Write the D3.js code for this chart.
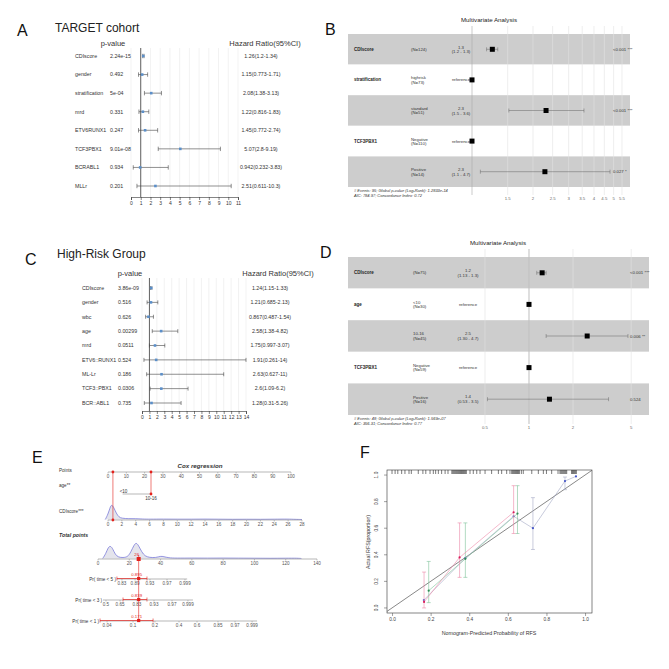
<!DOCTYPE html>
<html>
<head>
<meta charset="utf-8">
<script src="https://cdn.jsdelivr.net/npm/d3@7"></script>
<style>
  body { margin: 0; background: #fff; }
  svg { display: block; font-family: "Liberation Sans", Arial, sans-serif; }
</style>
</head>
<body>
<svg id="fig" width="669" height="669"></svg>
<script>
// ---- A: univariate cox, TARGET cohort
const varsA = ['CDIscore', 'gender', 'stratification', 'mrd', 'ETV6RUNX1', 'TCF3PBX1', 'BCRABL1', 'MLLr'];
const pvalA = ['2.24e-15', '0.492', '5e-04', '0.331', '0.247', '9.01e-08', '0.934', '0.201'];
const hrA = [1.26, 1.15, 2.08, 1.22, 1.45, 5.07, 0.942, 2.51];
const loA = [1.2, 0.773, 1.38, 0.816, 0.772, 2.8, 0.232, 0.611];
const hiA = [1.34, 1.71, 3.13, 1.83, 2.74, 9.19, 3.83, 10.3];
const ticksA = d3.range(0, 12);

// ---- C: univariate cox, high-risk group
const varsC = ['CDIscore', 'gender', 'wbc', 'age', 'mrd', 'ETV6::RUNX1', 'ML-Lr', 'TCF3::PBX1', 'BCR::ABL1'];
const pvalC = ['3.86e-09', '0.516', '0.626', '0.00299', '0.0511', '0.524', '0.186', '0.0306', '0.735'];
const hrC = [1.24, 1.21, 0.867, 2.58, 1.75, 1.91, 2.63, 2.6, 1.28];
const loC = [1.15, 0.685, 0.487, 1.38, 0.997, 0.261, 0.627, 1.09, 0.31];
const hiC = [1.33, 2.13, 1.54, 4.82, 3.07, 14, 11, 6.2, 5.26];
const ticksC = d3.range(0, 15);

// ---- B: multivariate, TARGET
const mvVarB = ['CDIscore', 'stratification', '', 'TCF3PBX1', ''];
const mvLevelB = ['', 'highrisk', 'standard', 'Negative', 'Positive'];
const mvNB = [124, 73, 51, 110, 14];
const mvHrB = [1.26, 1, 2.32, 1, 2.29];
const mvLoB = [1.18, null, 1.52, null, 1.1];
const mvHiB = [1.34, null, 3.57, null, 4.8];
const mvEstB = ['1.3', '', '2.3', '', '2.3'];
const mvCiB = ['(1.2 - 1.3)', '', '(1.5 - 3.6)', '', '(1.1 - 4.7)'];
const mvPB = ['<0.001 ***', '', '<0.001 ***', '', '0.027 *'];
const mvTicksB = [1.5, 2, 2.5, 3, 3.5, 4, 4.5, 5, 5.5];
const mvNoteB = ['# Events: 95; Global p-value (Log-Rank): 1.2833e-14', 'AIC: 784.97; Concordance Index: 0.72'];

// ---- D: multivariate, high-risk
const mvVarD = ['CDIscore', 'age', '', 'TCF3PBX1', ''];
const mvLevelD = ['', '<10', '10-16', 'Negative', 'Positive'];
const mvND = [75, 30, 45, 59, 16];
const mvHrD = [1.23, 1, 2.5, 1, 1.38];
const mvLoD = [1.13, null, 1.31, null, 0.52];
const mvHiD = [1.31, null, 4.75, null, 3.5];
const mvEstD = ['1.2', '', '2.5', '', '1.4'];
const mvCiD = ['(1.13 - 1.3)', '', '(1.30 - 4.7)', '', '(0.53 - 3.5)'];
const mvPD = ['<0.001 ***', '', '0.006 **', '', '0.524'];
const mvTicksD = [0.5, 1, 2, 5];
const mvNoteD = ['# Events: 48; Global p-value (Log-Rank): 1.569e-07', 'AIC: 356.31; Concordance Index: 0.77'];

// ---- E: nomogram
const pointTicks = d3.range(0, 101, 10);
const ageLevels = ['<10', '10-16'];
const agePoints = [8, 23.5];
const cdiTicks = d3.range(0, 29, 2);
const cdiMaxPoints = 106;   // points given to CDIscore = 28
const cdiDensity = [[-0.4, 0], [0, 0.35], [0.3, 0.8], [0.5, 1], [0.8, 0.85], [1.2, 0.4], [1.6, 0.15], [2, 0.08],
  [3, 0.05], [4, 0.06], [5, 0.03], [6, 0.02], [8, 0.03], [10, 0.02], [12, 0.02], [14, 0.03], [16, 0.02],
  [18, 0.01], [20, 0.02], [22, 0.01], [24, 0.02], [26, 0.03], [27, 0.01], [28, 0]];
const totalTicks = d3.range(0, 141, 20);
const totalDensity = [[3, 0], [5, 0.3], [6.5, 0.7], [8, 0.8], [9.5, 0.6], [11, 0.25], [13, 0.08], [16, 0.05],
  [19, 0.1], [21, 0.4], [23, 0.85], [24.5, 1], [26, 0.8], [28, 0.4], [30, 0.15], [33, 0.06], [37, 0.05],
  [40, 0.15], [42, 0.12], [45, 0.04], [50, 0.02], [60, 0.03], [70, 0.02], [80, 0.03], [90, 0.02],
  [100, 0.02], [110, 0.01], [120, 0.02], [128, 0.02], [130, 0]];
const probNames = ['Pr( time < 5 )', 'Pr( time < 3 )', 'Pr( time < 1 )'];
const probTickLabels = [
  ['0.83', '0.89', '0.93', '0.97', '0.999'],
  ['0.5', '0.65', '0.83', '0.93', '0.97', '0.999'],
  ['0.04', '0.1', '0.2', '0.4', '0.6', '0.85', '0.97', '0.999']
];
const probTickPoints = [
  [15.3, 23.7, 33.2, 44.1, 55.6],
  [5.1, 14.1, 24.9, 35.8, 47.3, 57.5],
  [5.8, 22.4, 36.4, 51.8, 63.3, 76.7, 87.6, 98.5]
];
const probRange = [[12.1, 57], [3.2, 60.7], [1.3, 101.7]];
const patientAgePoints = 23.5;
const patientCdi = 0.71;
const patientTotal = 26;
const patientProb = ['0.895', '0.839', '0.171'];
const patientProbCi = [[12.1, 31.3], [16, 31.3], [1.3, 35.2]];

// ---- F: calibration
const calTicks = [0, 0.2, 0.4, 0.6, 0.8, 1];
const rugPred = [0, 0.016, 0.03, 0.05, 0.067, 0.088, 0.1, 0.136, 0.16, 0.175, 0.197, 0.214, 0.226, 0.24, 0.257,
  0.275, 0.29, 0.31, 0.315, 0.32, 0.325, 0.33, 0.335, 0.34, 0.345, 0.35, 0.355, 0.36, 0.365, 0.37, 0.375,
  0.38, 0.385, 0.404, 0.421, 0.439, 0.456, 0.482, 0.516, 0.551, 0.568, 0.594, 0.611, 0.62, 0.625, 0.63,
  0.635, 0.64, 0.645, 0.65, 0.655, 0.66, 0.67, 0.68, 0.724, 0.758, 0.784, 0.8, 0.827, 0.86, 0.87, 0.875,
  0.88, 0.885, 0.89, 0.895, 0.9, 0.905, 0.93, 0.935, 0.94, 0.945, 0.95, 0.955];
const calPredRed = [0.166, 0.35, 0.63];
const calObsRed = [0.045, 0.38, 0.72];
const calLoRed = [0.0, 0.23, 0.56];
const calHiRed = [0.27, 0.64, 0.92];
const calPredGreen = [0.19, 0.38, 0.65];
const calObsGreen = [0.13, 0.37, 0.71];
const calLoGreen = [0.04, 0.23, 0.56];
const calHiGreen = [0.35, 0.64, 0.92];
const calPredBlue = [0.165, 0.38, 0.63, 0.73, 0.896, 0.953];
const calObsBlue = [0.06, 0.375, 0.69, 0.6, 0.955, 0.99];
const calLoBlue = [null, null, null, 0.44, 0.89, null];
const calHiBlue = [null, null, null, 0.83, 0.985, null];

const svg = d3.select('#fig');

// panel letters
[['A', 17, 36], ['B', 325, 35], ['C', 25, 265], ['D', 320, 258], ['E', 32, 463], ['F', 360, 458]]
  .forEach(([t, x, y]) => {
    svg.append('text').attr('x', x).attr('y', y).attr('font-size', 16).attr('fill', '#111').text(t);
  });

function forest(o) {
  const g = svg.append('g');
  const x = d3.scaleLinear().domain([0, o.ticks[o.ticks.length - 1]]).range([o.x0, o.x1]);
  const y = d3.scalePoint().domain(o.vars).range([o.rowTop, o.rowBot]);

  g.append('text').attr('x', o.titleX).attr('y', o.titleY).attr('font-size', 12).attr('fill', '#222').text(o.title);
  g.append('text').attr('x', o.pHeadX).attr('y', o.headY).attr('text-anchor', 'middle')
    .attr('font-size', 7.5).attr('fill', '#333').text('p-value');
  g.append('text').attr('x', o.hrHeadX).attr('y', o.headY).attr('text-anchor', 'middle')
    .attr('font-size', 7.5).attr('fill', '#333').text('Hazard Ratio(95%CI)');

  g.selectAll('.grid').data(o.ticks).join('line')
    .attr('x1', d => x(d)).attr('x2', d => x(d))
    .attr('y1', o.headY + 2).attr('y2', o.axisY)
    .attr('stroke', '#e4e4e4').attr('stroke-width', 0.5);
  g.append('line').attr('x1', x(1)).attr('x2', x(1)).attr('y1', o.headY + 2).attr('y2', o.axisY)
    .attr('stroke', '#222').attr('stroke-width', 0.7);

  const ax = g.append('g').attr('transform', `translate(0,${o.axisY})`)
    .call(d3.axisBottom(x).tickValues(o.ticks).tickSize(3).tickPadding(1.5).tickFormat(d3.format('d')));
  ax.selectAll('text').attr('font-size', 5).attr('fill', '#333');
  ax.selectAll('line,path').attr('stroke', '#333').attr('stroke-width', 0.6);

  const rows = g.selectAll('.row').data(o.vars).join('g').attr('transform', d => `translate(0,${y(d)})`);
  rows.append('text').attr('x', o.labelX).attr('dy', '0.35em').attr('font-size', 5.3).attr('fill', '#333').text(d => d);
  rows.append('text').attr('x', o.pX).attr('dy', '0.35em').attr('font-size', 5.3).attr('fill', '#333').text((d, i) => o.p[i]);
  rows.append('text').attr('x', o.hrX).attr('dy', '0.35em').attr('text-anchor', 'middle').attr('font-size', 5.3)
    .attr('fill', '#333').text((d, i) => `${o.hr[i]}(${o.lo[i]}-${o.hi[i]})`);
  rows.append('line').attr('x1', (d, i) => x(o.lo[i])).attr('x2', (d, i) => x(o.hi[i]))
    .attr('stroke', '#444').attr('stroke-width', 0.6);
  ['lo', 'hi'].forEach(k => {
    rows.append('line').attr('x1', (d, i) => x(o[k][i])).attr('x2', (d, i) => x(o[k][i]))
      .attr('y1', -o.cap).attr('y2', o.cap).attr('stroke', '#444').attr('stroke-width', 0.6);
  });
  rows.append('rect').attr('x', (d, i) => x(o.hr[i]) - 1.3).attr('y', -1.3).attr('width', 2.6).attr('height', 2.6)
    .attr('fill', '#5b8fc9');
}

forest({ title: 'TARGET cohort', titleX: 55, titleY: 32, vars: varsA, p: pvalA, hr: hrA, lo: loA, hi: hiA,
  ticks: ticksA, x0: 131, x1: 238, rowTop: 56, rowBot: 186, axisY: 197, labelX: 75, pX: 110, hrX: 261,
  headY: 46, pHeadX: 113, hrHeadX: 265, cap: 2.2 });
forest({ title: 'High-Risk Group', titleX: 57, titleY: 258, vars: varsC, p: pvalC, hr: hrC, lo: loC, hi: hiC,
  ticks: ticksC, x0: 142, x1: 246, rowTop: 288, rowBot: 403, axisY: 411, labelX: 82, pX: 118, hrX: 270,
  headY: 276, pHeadX: 130, hrHeadX: 278, cap: 2 });

function multivariate(o) {
  const g = svg.append('g');
  const x = d3.scaleLog().domain([1, o.refMax]).range([o.refX, o.refMaxX]);
  const n = o.vars.length;
  const rowY = i => o.rowTop + o.rowH * i;

  g.append('text').attr('x', o.titleX).attr('y', o.titleY).attr('text-anchor', 'middle')
    .attr('font-size', 6.2).attr('fill', '#222').text('Multivariate Analysis');

  g.selectAll('.band').data(d3.range(n)).join('rect')
    .attr('x', o.box0).attr('width', o.box1 - o.box0)
    .attr('y', i => rowY(i)).attr('height', o.rowH)
    .attr('fill', i => (i % 2 === 0 ? '#cdcdcd' : '#fff'));

  g.selectAll('.grid').data(o.ticks).join('line')
    .attr('x1', d => x(d)).attr('x2', d => x(d)).attr('y1', o.gridTop).attr('y2', o.gridBot)
    .attr('stroke', '#e3e3e3').attr('stroke-width', 0.6);
  g.append('line').attr('x1', x(1)).attr('x2', x(1)).attr('y1', o.gridTop).attr('y2', o.gridBot)
    .attr('stroke', '#aaa').attr('stroke-width', 0.6);
  g.selectAll('.tick').data(o.ticks).join('text')
    .attr('x', d => x(d)).attr('y', o.tickY).attr('text-anchor', 'middle')
    .attr('font-size', 4.3).attr('fill', '#666').text(d => d);

  const rows = g.selectAll('.row').data(d3.range(n)).join('g')
    .attr('transform', i => `translate(0,${rowY(i) + o.rowH / 2})`);
  rows.append('text').attr('x', o.varX).attr('dy', '0.35em').attr('font-size', 4.5)
    .attr('font-weight', 'bold').attr('fill', '#222').text(i => o.vars[i]);
  rows.each(function (i) {
    const r = d3.select(this);
    const lvl = o.levels[i];
    r.append('text').attr('x', o.levelX).attr('y', lvl ? 3.8 : 0).attr('dy', lvl ? 0 : '0.35em')
      .attr('font-size', 4.3).attr('fill', '#333').text(`(N=${o.counts[i]})`);
    if (lvl) r.append('text').attr('x', o.levelX).attr('y', -0.6).attr('font-size', 4.3).attr('fill', '#333').text(lvl);
    if (o.lo[i] == null) {
      r.append('text').attr('x', o.estX).attr('dy', '0.35em').attr('text-anchor', 'middle')
        .attr('font-size', 4.3).attr('fill', '#333').text('reference');
    } else {
      r.append('text').attr('x', o.estX).attr('y', -0.8).attr('text-anchor', 'middle')
        .attr('font-size', 4.3).attr('fill', '#333').text(o.est[i]);
      r.append('text').attr('x', o.estX).attr('y', 4).attr('text-anchor', 'middle')
        .attr('font-size', 4.3).attr('fill', '#333').text(o.ci[i]);
      r.append('line').attr('x1', x(o.lo[i])).attr('x2', x(o.hi[i]))
        .attr('stroke', '#666').attr('stroke-width', 0.5);
      [o.lo[i], o.hi[i]].forEach(v => r.append('line').attr('x1', x(v)).attr('x2', x(v))
        .attr('y1', -2).attr('y2', 2).attr('stroke', '#666').attr('stroke-width', 0.5));
      r.append('text').attr('x', o.pX).attr('dy', '0.35em').attr('font-size', 4.3)
        .attr('fill', '#333').text(o.p[i]);
    }
    r.append('rect').attr('x', x(o.hr[i]) - 2.5).attr('y', -2.5).attr('width', 5).attr('height', 5).attr('fill', '#000');
  });

  o.notes.forEach((t, k) => {
    g.append('text').attr('x', o.varX).attr('y', o.noteY + k * 5).attr('font-size', 4)
      .attr('font-style', 'italic').attr('fill', '#333').text(t);
  });
}

multivariate({ vars: mvVarB, levels: mvLevelB, counts: mvNB, hr: mvHrB, lo: mvLoB, hi: mvHiB, est: mvEstB,
  ci: mvCiB, p: mvPB, ticks: mvTicksB, notes: mvNoteB, refMax: 5.5, refX: 472, refMaxX: 622,
  box0: 348, box1: 630, rowTop: 34, rowH: 30.6, varX: 354, levelX: 411, estX: 461, pX: 613,
  titleX: 489, titleY: 22, gridTop: 26, gridBot: 195, tickY: 200, noteY: 192 });
multivariate({ vars: mvVarD, levels: mvLevelD, counts: mvND, hr: mvHrD, lo: mvLoD, hi: mvHiD, est: mvEstD,
  ci: mvCiD, p: mvPD, ticks: mvTicksD, notes: mvNoteD, refMax: 5, refX: 529, refMaxX: 631.2,
  box0: 348, box1: 649, rowTop: 257, rowH: 31.6, varX: 354, levelX: 413, estX: 468, pX: 630,
  titleX: 498, titleY: 245, gridTop: 249, gridBot: 424, tickY: 429, noteY: 420 });

// ---- E nomogram
(function nomogram() {
  const g = svg.append('g');
  const ptsX = d3.scaleLinear().domain([0, 100]).range([108, 291]);
  const totX = d3.scaleLinear().domain([0, 140]).range([98, 317]);
  const cdiPts = d3.scaleLinear().domain([0, 28]).range([0, cdiMaxPoints]);
  const red = '#e3211c';
  const yPts = 472, yAge = 494, yCdi = 520, yTot = 559, yProb = [579, 600, 621];
  const fs = 4.6;

  function hAxis(xs, labels, y) {
    g.append('line').attr('x1', d3.min(xs)).attr('x2', d3.max(xs)).attr('y1', y).attr('y2', y)
      .attr('stroke', '#888').attr('stroke-width', 0.6);
    g.selectAll(null).data(xs).join('line').attr('x1', d => d).attr('x2', d => d)
      .attr('y1', y).attr('y2', y + 1.5).attr('stroke', '#888').attr('stroke-width', 0.5);
    g.selectAll(null).data(labels).join('text').attr('x', (d, i) => xs[i]).attr('y', y + 5.5)
      .attr('text-anchor', 'middle').attr('font-size', fs).attr('fill', '#555').text(d => d);
  }
  function label(t, x, y, opts = {}) {
    return g.append('text').attr('x', x).attr('y', y).attr('font-size', opts.size || fs)
      .attr('fill', '#333').attr('text-anchor', opts.anchor || 'start')
      .attr('font-weight', opts.bold ? 'bold' : null).attr('font-style', opts.italic ? 'italic' : null).text(t);
  }

  label('Cox regression', 200, 468, { size: 6.2, bold: true, italic: true, anchor: 'middle' });
  label('Points', 59, 472);
  label('age**', 59, 487);
  label('CDIscore***', 59, 513);
  label('Total points', 59, 537, { size: 5.2, bold: true, italic: true });

  hAxis(pointTicks.map(ptsX), pointTicks, yPts);

  // age
  g.append('line').attr('x1', ptsX(agePoints[0])).attr('x2', ptsX(agePoints[1])).attr('y1', yAge).attr('y2', yAge)
    .attr('stroke', '#888').attr('stroke-width', 0.6);
  label(ageLevels[0], ptsX(agePoints[0]) - 3, yAge - 1.5);
  label(ageLevels[1], ptsX(agePoints[1]), yAge + 5.5, { anchor: 'middle' });

  // density helper
  function density(pairs, xf, base, hgt) {
    const area = d3.area().x(d => xf(d[0])).y0(base).y1(d => base - d[1] * hgt).curve(d3.curveBasis);
    const line = d3.line().x(d => xf(d[0])).y(d => base - d[1] * hgt).curve(d3.curveBasis);
    g.append('path').attr('d', area(pairs)).attr('fill', '#e4e4ec');
    g.append('path').attr('d', line(pairs)).attr('fill', 'none').attr('stroke', '#6b6bd6').attr('stroke-width', 0.7);
  }
  density(cdiDensity, d => ptsX(cdiPts(d)), yCdi - 0.5, 15);
  hAxis(cdiTicks.map(d => ptsX(cdiPts(d))), cdiTicks, yCdi);

  density(totalDensity, totX, yTot - 0.5, 16);
  hAxis(totalTicks.map(totX), totalTicks, yTot);

  probNames.forEach((nm, k) => {
    const y = yProb[k];
    const r = probRange[k];
    g.append('line').attr('x1', totX(r[0])).attr('x2', totX(r[1])).attr('y1', y).attr('y2', y)
      .attr('stroke', '#888').attr('stroke-width', 0.6);
    g.selectAll(null).data(probTickPoints[k]).join('line').attr('x1', d => totX(d)).attr('x2', d => totX(d))
      .attr('y1', y).attr('y2', y + 1.5).attr('stroke', '#888').attr('stroke-width', 0.5);
    g.selectAll(null).data(probTickLabels[k]).join('text').attr('x', (d, i) => totX(probTickPoints[k][i]))
      .attr('y', y + 5.5).attr('text-anchor', 'middle').attr('font-size', fs).attr('fill', '#555').text(d => d);
    label(nm, totX(r[0]) - 1, y + 1.5, { anchor: 'end' });
    // patient estimate with CI bracket
    const ci = patientProbCi[k];
    g.append('line').attr('x1', totX(ci[0])).attr('x2', totX(ci[1])).attr('y1', y - 0.5).attr('y2', y - 0.5)
      .attr('stroke', red).attr('stroke-width', 0.7);
    ci.forEach(v => g.append('line').attr('x1', totX(v)).attr('x2', totX(v)).attr('y1', y - 2.5).attr('y2', y + 1.5)
      .attr('stroke', red).attr('stroke-width', 0.6));
    g.append('rect').attr('x', totX(patientTotal) - 1.6).attr('y', y - 2.1).attr('width', 3.2).attr('height', 3.2).attr('fill', red);
    g.append('text').attr('x', totX(patientTotal) - 2).attr('y', y - 3).attr('text-anchor', 'middle')
      .attr('font-size', 4.3).attr('fill', red).text(patientProb[k]);
  });

  // red guide lines for the patient
  const xa = ptsX(patientAgePoints), xc = ptsX(cdiPts(patientCdi)), xt = totX(patientTotal);
  [[xc, yPts, yCdi], [xa, yPts, yAge], [xt, yTot - 4, yProb[2]]].forEach(([xx, y1, y2]) => {
    g.append('line').attr('x1', xx).attr('x2', xx).attr('y1', y1).attr('y2', y2).attr('stroke', red).attr('stroke-width', 0.6);
  });
  [[xc, yPts], [xa, yPts], [xa, yAge], [xc, yCdi]].forEach(([xx, yy]) => {
    g.append('circle').attr('cx', xx).attr('cy', yy).attr('r', 1.4).attr('fill', red);
  });
  g.append('rect').attr('x', xt - 2).attr('y', yTot - 2).attr('width', 4).attr('height', 4).attr('fill', red);
  g.append('text').attr('x', xt - 2).attr('y', yTot - 3).attr('text-anchor', 'middle')
    .attr('font-size', 4.3).attr('fill', red).text(patientTotal);
})();

// ---- F calibration
(function calibration() {
  const g = svg.append('g');
  const x = d3.scaleLinear().domain([-0.026, 1.036]).range([387, 592]);
  const y = d3.scaleLinear().domain([-0.038, 1.038]).range([613, 470]);
  g.append('rect').attr('x', 387).attr('y', 470).attr('width', 205).attr('height', 143)
    .attr('fill', 'none').attr('stroke', '#333').attr('stroke-width', 0.6);

  const ax = g.append('g').attr('transform', 'translate(0,613)')
    .call(d3.axisBottom(x).tickValues(calTicks).tickFormat(d3.format('.1f')).tickSize(3).tickPadding(2));
  ax.select('.domain').remove();
  ax.selectAll('text').attr('font-size', 4.8).attr('fill', '#444');
  ax.selectAll('line').attr('stroke', '#444').attr('stroke-width', 0.5);
  const ay = g.append('g').attr('transform', 'translate(387,0)')
    .call(d3.axisLeft(y).tickValues(calTicks).tickFormat(d3.format('.1f')).tickSize(3).tickPadding(2));
  ay.select('.domain').remove();
  ay.selectAll('line').attr('stroke', '#444').attr('stroke-width', 0.5);
  ay.selectAll('text').attr('font-size', 4.8).attr('fill', '#444')
    .attr('text-anchor', 'middle').attr('transform', 'rotate(-90) translate(0,-2)')
    .attr('x', 0).attr('dy', 0)
    .each(function (d) { d3.select(this).attr('x', -y(d)).attr('y', -7); });
  ay.selectAll('.tick').attr('transform', null);
  ay.selectAll('.tick line').attr('y1', d => y(d)).attr('y2', d => y(d)).attr('x2', -3);

  g.append('text').attr('x', 489).attr('y', 635).attr('text-anchor', 'middle').attr('font-size', 5.3)
    .attr('fill', '#333').text('Nomogram-Predicted Probability of RFS');
  g.append('text').attr('transform', 'translate(370,542) rotate(-90)').attr('text-anchor', 'middle')
    .attr('font-size', 5.3).attr('fill', '#333').text('Actual RFS(proportion)');

  // ideal line
  g.append('line').attr('x1', x(-0.026)).attr('y1', y(-0.026)).attr('x2', x(1.036)).attr('y2', y(1.036))
    .attr('stroke', '#555').attr('stroke-width', 0.7);

  // rug
  g.selectAll('.rug').data(rugPred).join('line').attr('x1', d => x(d)).attr('x2', d => x(d))
    .attr('y1', 470).attr('y2', 474).attr('stroke', '#222').attr('stroke-width', 0.6);

  function series(pred, obs, lo, hi, col, lineCol) {
    const pts = pred.map((p, i) => [p, obs[i], lo[i], hi[i]]);
    g.append('path').attr('d', d3.line().x(d => x(d[0])).y(d => y(d[1]))(pts))
      .attr('fill', 'none').attr('stroke', lineCol).attr('stroke-width', 0.6);
    pts.filter(d => d[2] != null).forEach(d => {
      g.append('line').attr('x1', x(d[0])).attr('x2', x(d[0])).attr('y1', y(d[2])).attr('y2', y(d[3]))
        .attr('stroke', lineCol).attr('stroke-width', 0.6);
      [d[2], d[3]].forEach(v => g.append('line').attr('x1', x(d[0]) - 2).attr('x2', x(d[0]) + 2)
        .attr('y1', y(v)).attr('y2', y(v)).attr('stroke', lineCol).attr('stroke-width', 0.6));
    });
    g.selectAll(null).data(pts).join('circle').attr('cx', d => x(d[0])).attr('cy', d => y(d[1]))
      .attr('r', 1.1).attr('fill', col);
  }
  series(calPredBlue, calObsBlue, calLoBlue, calHiBlue, '#4656c8', '#a2a8c4');
  series(calPredGreen, calObsGreen, calLoGreen, calHiGreen, '#2f8c55', '#7fc39a');
  series(calPredRed, calObsRed, calLoRed, calHiRed, '#d81b5a', '#ec88a8');
})();
</script>
</body>
</html>
